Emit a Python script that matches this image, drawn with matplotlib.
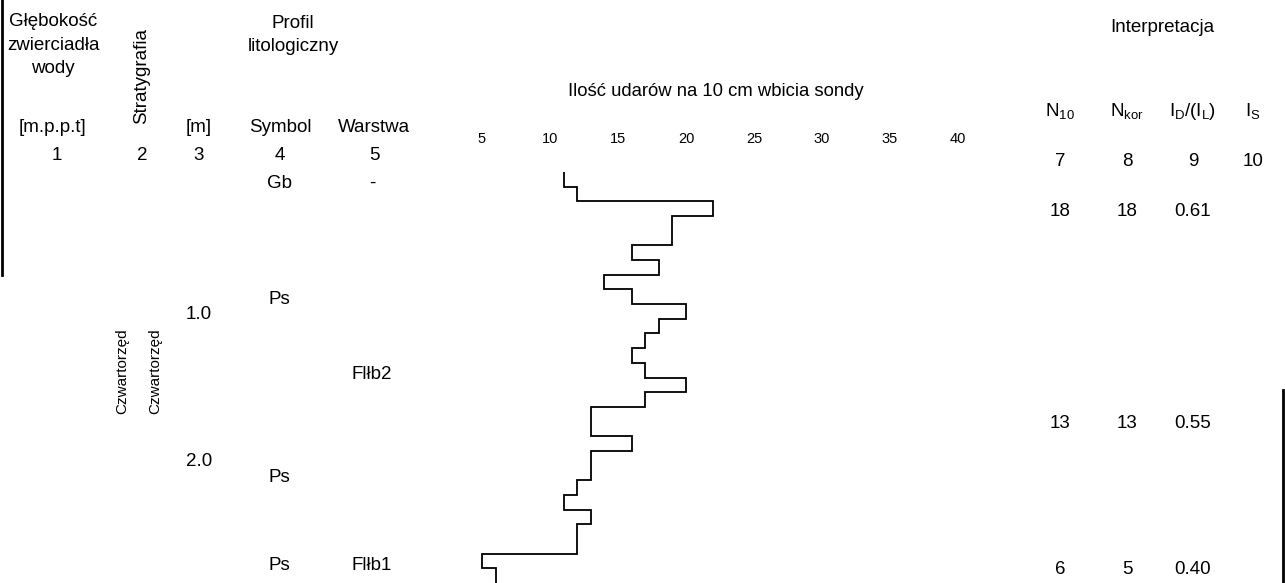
import matplotlib
matplotlib.use("Agg")
import matplotlib.pyplot as plt
from matplotlib.lines import Line2D
from matplotlib.transforms import blended_transform_factory

plt.rcParams["font.family"] = ["Liberation Sans", "DejaVu Sans"]
plt.rcParams["mathtext.fontset"] = "custom"
plt.rcParams["mathtext.rm"] = "Liberation Sans"
plt.rcParams["mathtext.it"] = "Liberation Sans"

# --- Dane sondowania (co 10 cm) ---
glebokosc = [0.0, 0.1, 0.2, 0.3, 0.4, 0.5, 0.6, 0.7, 0.8, 0.9, 1.0, 1.1, 1.2, 1.3, 1.4,
             1.5, 1.6, 1.7, 1.8, 1.9, 2.0, 2.1, 2.2, 2.3, 2.4, 2.5, 2.6, 2.7, 2.8]
udary = [11, 12, 22, 19, 19, 16, 18, 14, 16, 20, 18, 17, 16, 17,
         20, 17, 13, 13, 16, 13, 13, 12, 11, 13, 12, 12, 5, 6]
skala_x = [5, 10, 15, 20, 25, 30, 35, 40]

# --- Warstwy ---
symbole = ["Gb", "Ps", "Ps", "Ps"]
symbole_z = [0.075, 0.87, 2.08, 2.68]
warstwy = ["-", "Flłb2", "Flłb1"]
warstwy_z = [0.075, 1.38, 2.68]
metry = [1.0, 2.0]

# --- Interpretacja ---
N10 = [18, 13, 6]
Nkor = [18, 13, 5]
ID = [0.61, 0.55, 0.40]
interp_z = [0.27, 1.71, 2.71]

W, H = 1285, 583
fig = plt.figure(figsize=(W / 100, H / 100), dpi=100)


def fx(x):
    return x / W


def fy(y):
    return 1 - y / H


# obszar wykresu sondowania
ax_left, ax_right, ax_top = 440, 1000, 150
ax = fig.add_axes([fx(ax_left), 0, fx(ax_right - ax_left), 1 - ax_top / H])
s = 13.6  # px na jedno uderzenie
x5 = 482
ax.set_xlim(5 + (ax_left - x5) / s, 5 + (ax_right - x5) / s)
z0, dz = 172, 146.8  # px dla 0 m, px na 1 m
ax.set_ylim((H - z0) / dz, (ax_top - z0) / dz)

ax.stairs(udary, glebokosc, orientation="horizontal", baseline=None,
          color="black", linewidth=1.3)

ax.xaxis.tick_top()
ax.set_xticks(skala_x)
ax.set_xticklabels([str(v) for v in skala_x], fontsize=10.5)
ax.tick_params(axis="x", length=0, pad=3)
ax.set_yticks([])
for sp in ax.spines.values():
    sp.set_visible(False)
ax.patch.set_alpha(0)

tz = blended_transform_factory(fig.transFigure, ax.transData)
FS = 13.5

# --- naglowki ---
fig.text(fx(53), fy(45), "Głębokość\nzwierciadła\nwody", ha="center", va="center",
         fontsize=FS, linespacing=1.5)
fig.text(fx(142), fy(76), "Stratygrafia", ha="center", va="center", rotation=90, fontsize=FS)
fig.text(fx(293), fy(35), "Profil\nlitologiczny", ha="center", va="center",
         fontsize=FS, linespacing=1.5)
for txt, x in [("[m.p.p.t]", 52), ("[m]", 199), ("Symbol", 280), ("Warstwa", 374)]:
    fig.text(fx(x), fy(127), txt, ha="center", va="center", fontsize=FS)
for txt, x in [("1", 57), ("2", 142), ("3", 199), ("4", 280), ("5", 374)]:
    fig.text(fx(x), fy(155), txt, ha="center", va="center", fontsize=FS)

fig.text(fx(716), fy(92), "Ilość udarów na 10 cm wbicia sondy", ha="center", va="center",
         fontsize=13.3)

fig.text(fx(1162), fy(27), "Interpretacja", ha="center", va="center", fontsize=FS)
kol_x = [1060, 1127, 1193, 1253]
naglowki_int = [r"N$_{10}$", r"N$_{\mathrm{kor}}$", r"I$_{\mathrm{D}}$/(I$_{\mathrm{L}}$)",
                r"I$_{\mathrm{S}}$"]
for txt, x in zip(naglowki_int, kol_x):
    fig.text(fx(x), fy(111), txt, ha="center", va="center", fontsize=FS)
for txt, x in zip(["7", "8", "9", "10"], kol_x):
    fig.text(fx(x), fy(162), txt, ha="center", va="center", fontsize=FS)

# --- kolumny zwiazane z glebokoscia ---
for m in metry:
    ax.text(fx(199), m, f"{m:.1f}", transform=tz, ha="center", va="baseline", fontsize=FS)
for txt, z in zip(symbole, symbole_z):
    ax.text(fx(279), z, txt, transform=tz, ha="center", va="center", fontsize=FS)
for txt, z in zip(warstwy, warstwy_z):
    ax.text(fx(372), z, txt, transform=tz, ha="center", va="center", fontsize=FS)
for x in [122, 155]:
    ax.text(fx(x), 1.36, "Czwartorzęd", transform=tz, ha="center", va="center",
            rotation=90, fontsize=11)

for n, nk, i, z in zip(N10, Nkor, ID, interp_z):
    ax.text(fx(kol_x[0]), z, str(n), transform=tz, ha="center", va="center", fontsize=FS)
    ax.text(fx(kol_x[1]), z, str(nk), transform=tz, ha="center", va="center", fontsize=FS)
    ax.text(fx(kol_x[2]), z, f"{i:.2f}", transform=tz, ha="center", va="center", fontsize=FS)

# --- ramki ---
fig.add_artist(Line2D([fx(2), fx(2)], [fy(0), fy(275)], color="black", linewidth=2))
fig.add_artist(Line2D([fx(1283), fx(1283)], [fy(390), fy(583)], color="black", linewidth=2))

fig.savefig("out.png", dpi=100, facecolor="white")
